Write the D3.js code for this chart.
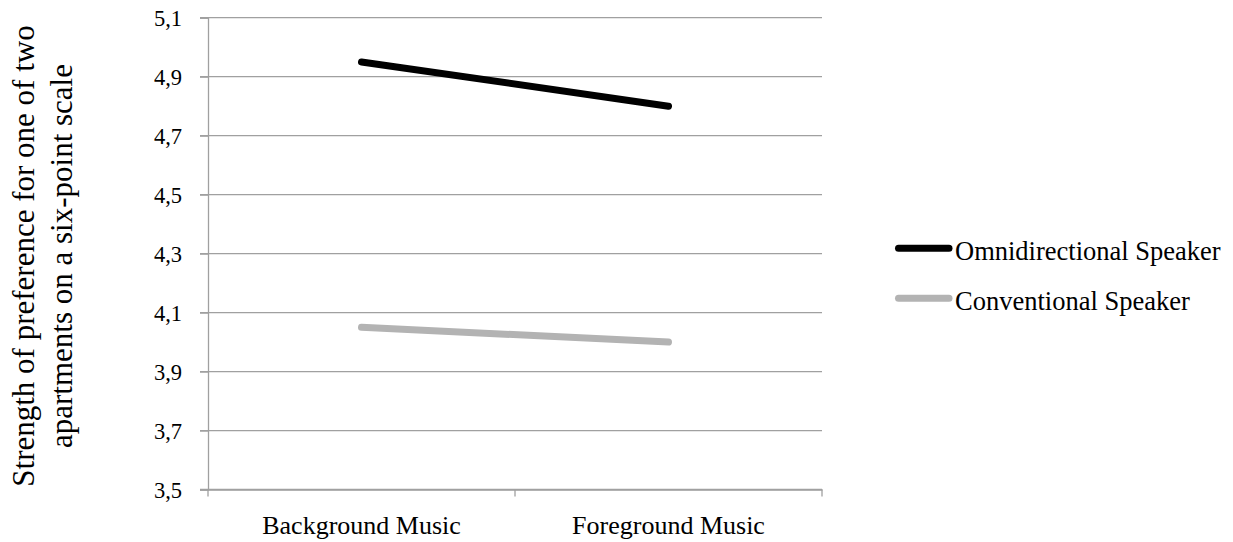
<!DOCTYPE html>
<html><head><meta charset="utf-8">
<script src="https://cdn.jsdelivr.net/npm/d3@7"></script>
<style>body{margin:0;background:#fff}svg{display:block}svg text{font-family:"Liberation Serif","Times New Roman",serif !important;fill:#000}</style>
</head><body>
<svg id="c" width="1233" height="542"></svg>
<script>
const categories = ["Background Music", "Foreground Music"];
const seriesNames = ["Omnidirectional Speaker", "Conventional Speaker"];
const omniValues = [4.95, 4.80];
const convValues = [4.05, 4.00];
const yTicks = [3.5, 3.7, 3.9, 4.1, 4.3, 4.5, 4.7, 4.9, 5.1];
const colors = ["#000000", "#b3b3b3"];

(function () {
const svg = d3.select("#c");
const mLeft = 208, mRight = 822, mTop = 17.7, mBottom = 489.5;
const x = d3.scaleBand().domain(categories).range([mLeft, mRight]);
const y = d3.scaleLinear().domain([3.5, 5.1]).range([mBottom, mTop]);
const fmt = d => d3.format(".1f")(d).replace(".", ",");

// gridlines
svg.append("g").selectAll("line").data(yTicks).join("line")
  .attr("x1", mLeft - 8).attr("x2", mRight)
  .attr("y1", d => y(d)).attr("y2", d => y(d))
  .attr("stroke", "#a0a0a0").attr("stroke-width", 1.3);

// y axis
const ya = svg.append("g").attr("transform", `translate(${mLeft},0)`)
  .call(d3.axisLeft(y).tickValues(yTicks).tickFormat(fmt).tickSize(8).tickPadding(18));
ya.select(".domain").attr("stroke", "#a0a0a0").attr("stroke-width", 1.3);
ya.selectAll(".tick line").attr("stroke", "#a0a0a0").attr("stroke-width", 1.3);
ya.selectAll(".tick text").style("font-size", "22.5px").attr("dy", "0.36em");

// x axis
const xa = svg.append("g").attr("transform", `translate(0,${mBottom})`)
  .call(d3.axisBottom(x).tickSize(0).tickPadding(0));
xa.select(".domain").attr("stroke", "#a0a0a0").attr("stroke-width", 1.3);
xa.selectAll(".tick text").style("font-size", "26px").attr("y", 44).attr("dy", null);
const bounds = [mLeft, mLeft + x.step(), mRight];
svg.append("g").selectAll("line").data(bounds).join("line")
  .attr("x1", d => d).attr("x2", d => d)
  .attr("y1", mBottom).attr("y2", mBottom + 7)
  .attr("stroke", "#a0a0a0").attr("stroke-width", 1.3);

// lines
const series = [omniValues, convValues];
const line = d3.line().x((d, i) => x(categories[i]) + x.bandwidth() / 2).y(d => y(d));
svg.append("g").selectAll("path").data(series).join("path")
  .attr("d", d => line(d)).attr("fill", "none")
  .attr("stroke", (d, i) => colors[i]).attr("stroke-width", 7)
  .attr("stroke-linecap", "round");

// y title
const yt = svg.append("text")
  .attr("transform", "translate(0,256) rotate(-90)")
  .attr("text-anchor", "middle").style("font-size", "31px");
yt.append("tspan").attr("x", 0).attr("y", 34).text("Strength of preference for one of two");
yt.append("tspan").attr("x", 0).attr("y", 72).text("apartments on a six-point scale");

// legend
const lg = svg.append("g").selectAll("g").data(seriesNames).join("g")
  .attr("transform", (d, i) => `translate(0,${248.3 + i * 50})`);
lg.append("line").attr("x1", 898.5).attr("x2", 949).attr("y1", 0).attr("y2", 0)
  .attr("stroke", (d, i) => colors[i]).attr("stroke-width", 7).attr("stroke-linecap", "round");
lg.append("text").attr("x", 955).attr("y", 12).style("font-size", "26.5px").text(d => d);
})();
</script>
</body></html>
